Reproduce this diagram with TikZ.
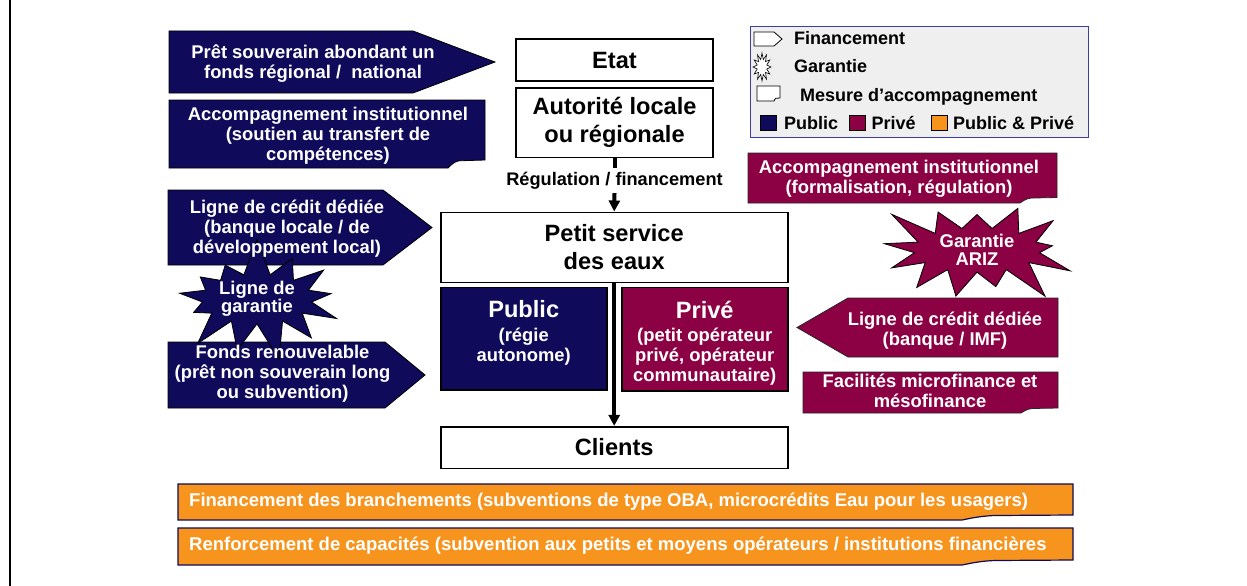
\documentclass[tikz,border=0pt]{standalone}
\usepackage{fontspec}
\setmainfont{Liberation Sans}
\usetikzlibrary{shapes.symbols,arrows.meta}
\definecolor{navy}{RGB}{15,10,90}
\definecolor{maroonc}{RGB}{140,0,68}
\definecolor{orng}{RGB}{247,148,30}
\definecolor{leggray}{RGB}{239,239,239}
\definecolor{legblue}{RGB}{60,60,170}
% pentagon pointing right: style, left, top, base of point, tip, bottom
\newcommand\homeRight[6]{\filldraw[#1] (#2,#3) -- (#4,#3) -- (#5,{(#3+#6)/2}) -- (#4,#6) -- (#2,#6) -- cycle;}
% pentagon pointing left: style, tip, top, base of point, right, bottom
\newcommand\homeLeft[6]{\filldraw[#1] (#5,#3) -- (#4,#3) -- (#2,{(#3+#6)/2}) -- (#4,#6) -- (#5,#6) -- cycle;}
% box with folded bottom-right corner: style, l, t, r, b, fold width, fold drop
\newcommand\foldbox[7]{\filldraw[#1] (#2,#3) -- (#4,#3) -- (#4,#5-#7) -- (#4-0.7*#6,#5-0.9*#7) .. controls (#4-0.85*#6,#5-0.8*#7) and (#4-0.95*#6,#5-0.2*#7) .. (#4-#6,#5) -- (#2,#5) -- cycle;}
\begin{document}
\begin{tikzpicture}[x=1pt,y=-1pt,
  shapeN/.style={fill=navy,draw=black,line width=0.8pt},
  shapeM/.style={fill=maroonc,draw=black!85,line width=0.8pt},
  shapeO/.style={fill=orng,draw=navy,line width=1.2pt},
  wtxt/.style={text=white,font=\bfseries\fontsize{18.4}{20}\selectfont,align=center,inner sep=0pt},
  otxt/.style={text=white,font=\bfseries\fontsize{18.5}{20}\selectfont,inner sep=0pt},
  cbox/.style={draw=black,line width=1.6pt,fill=white,font=\bfseries\fontsize{23.6}{27.5}\selectfont,align=center,inner sep=0pt},
  pbox/.style={draw=black,line width=1.6pt,text=white,font=\bfseries\fontsize{18.4}{20}\selectfont,align=center,inner sep=0pt},
  burst/.style={shape=starburst,draw=black,line width=0.8pt,starburst points=13,inner sep=0pt,text=white,font=\bfseries\fontsize{18.4}{18}\selectfont,align=center},
  legtxt/.style={font=\bfseries\fontsize{18}{20}\selectfont,inner sep=0pt,anchor=base west},
  lbl/.style={font=\bfseries\fontsize{18.2}{20}\selectfont,inner sep=0pt,minimum height=25pt},
  conn/.style={line width=4pt,draw=black}]
\useasboundingbox (0,0) rectangle (1247,586);
\fill[white] (0,0) rectangle (1247,586);
% left frame line
\draw[line width=2pt] (10,0) -- (10,586);

% ---------- left (public) measures ----------
\homeRight{shapeN}{169}{31}{413}{495}{93}
\foldbox{shapeN}{169}{100}{485}{168}{37}{8}
\homeRight{shapeN}{168}{190}{383}{432}{265}
\homeRight{shapeN}{168}{342}{385}{425}{408}
\node[burst,fill=navy,minimum width=186pt,minimum height=102pt,starburst point height=38pt,random starburst=7] (garL) at (257,299) {Ligne de\\garantie};
\node[wtxt] (pret) at (313,63.5) {Prêt souverain abondant un\\fonds régional /\ \ national};
\node[wtxt] (accL) at (328,135.5) {Accompagnement institutionnel\\(soutien au transfert de\\compétences)};
\node[wtxt] (credL) at (287,228.7) {Ligne de crédit dédiée\\(banque locale / de\\développement local)};
\node[wtxt] (fonds) at (282.5,373.5) {Fonds renouvelable\\(prêt non souverain long\\ou subvention)};

% ---------- centre ----------
\node[cbox,minimum width=197pt,minimum height=42pt] (etat) at (614.5,60.2) {Etat};
\node[cbox,minimum width=197pt,minimum height=69.6pt] (aut) at (614.5,122.5) {Autorité locale\\ou régionale};
\node[cbox,minimum width=347pt,minimum height=70pt] (petit) at (614.2,247.3) {Petit service\\des eaux};
\node[pbox,fill=navy,minimum width=166pt,minimum height=102.7pt] (pub) at (523.7,338.7) {};
\node[pbox,fill=maroonc,minimum width=166pt,minimum height=103.4pt] (priv) at (704.7,339) {};
\node[pbox,draw=none,anchor=north] (pubt) at (523.7,300) {{\fontsize{23.6}{23}\selectfont Public}\\[3.3pt](régie\\autonome)};
\node[pbox,draw=none,anchor=north] (privt) at (704.7,300) {{\fontsize{23.6}{23}\selectfont Privé}\\[3.3pt](petit opérateur\\privé, opérateur\\communautaire)};
\node[cbox,minimum width=347pt,minimum height=41.6pt] (clients) at (614.2,447.5) {Clients};

\node[lbl] (reg) at (614.5,180.5) {Régulation / financement};
\draw[conn] (aut.south) -- (reg.north);
\draw[conn,-{Triangle[width=11pt,length=11pt]}] (reg.south) -- (petit.north);
\draw[conn,-{Triangle[width=11pt,length=11pt]}] (petit.south) -- (clients.north);

% ---------- right (private) measures ----------
\foldbox{shapeM}{748}{153}{1057}{203}{37}{5.5}
\node[wtxt] (accR) at (899,179) {Accompagnement institutionnel\\(formalisation, régulation)};
\homeLeft{shapeM}{797}{298}{848}{1058}{357}
\node[wtxt] (credR) at (945,330.5) {Ligne de crédit dédiée\\(banque / IMF)};
\foldbox{shapeM}{803}{372}{1058}{413}{37}{5}
\node[wtxt] (micro) at (930,391) {Facilités microfinance et\\mésofinance};
\node[burst,fill=maroonc,minimum width=210pt,minimum height=108pt,starburst point height=42pt,random starburst=3] (ariz) at (977,250) {Garantie\\ARIZ};

% ---------- legend ----------
\draw[legblue,fill=leggray,line width=1pt] (750,27) rectangle (1088,137);
\filldraw[fill=white,draw=black,line width=0.8pt] (754,32) -- (774,32) -- (782,39) -- (774,46) -- (754,46) -- cycle;
\node[legtxt] (lfin) at (794,45) {Financement};
\filldraw[fill=white,draw=black,line width=0.6pt] plot[samples at={0,15,...,345}] ({762+9*cos(\x)*ifthenelse(mod(\x,30)==0,1,0.55)},{67+14*sin(\x)*ifthenelse(mod(\x,30)==0,1,0.55)}) -- cycle;
\node[legtxt] (lgar) at (794,73) {Garantie};
\foldbox{fill=white,draw=black,line width=0.8pt}{757}{86}{780}{101}{6}{3}
\node[legtxt] (lmes) at (800,101) {Mesure d’accompagnement};
\filldraw[fill=navy,draw=black,line width=0.6pt] (760,115) rectangle (776,130);
\node[legtxt] (lpub) at (784,129) {Public};
\filldraw[fill=maroonc,draw=black,line width=0.6pt] (849,115) rectangle (865,130);
\node[legtxt] (lpriv) at (871.5,129) {Privé};
\filldraw[fill=orng,draw=black,line width=0.6pt] (931,115) rectangle (947,130);
\node[legtxt] (lpp) at (953,129) {Public \& Privé};

% ---------- bottom bars ----------
\foldbox{shapeO}{178}{484}{1073}{520}{111}{5}
\node[otxt,anchor=west] (bar1) at (189,502) {Financement des branchements (subventions de type OBA, microcrédits Eau pour les usagers)};
\foldbox{shapeO}{178}{528}{1073}{565}{111}{5}
\node[otxt,anchor=west] (bar2) at (189,546) {Renforcement de capacités (subvention aux petits et moyens opérateurs / institutions financières};
\end{tikzpicture}
\end{document}
